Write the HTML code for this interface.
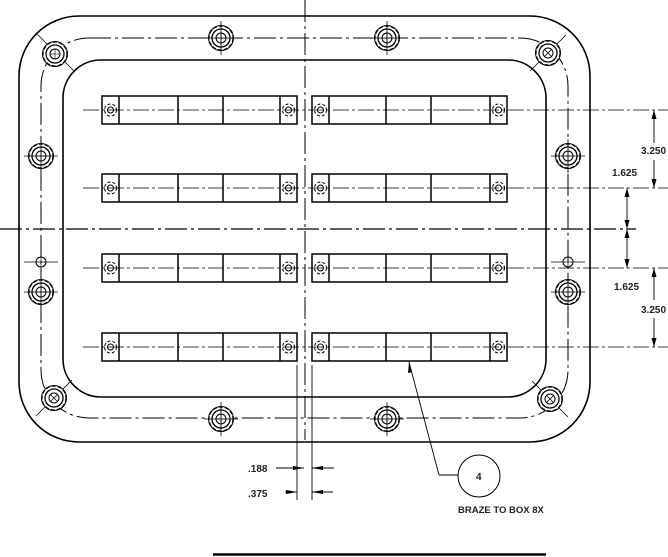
<!DOCTYPE html>
<html><head><meta charset="utf-8"><style>
html,body{margin:0;padding:0;background:#fff;}
svg{display:block;}
text{font-family:"Liberation Sans",sans-serif;font-weight:bold;fill:#222;}
</style></head><body>
<svg id="s" width="668" height="557" viewBox="0 0 668 557" xmlns="http://www.w3.org/2000/svg">
<g fill="none" stroke="#000" stroke-width="1.6">
<rect x="19" y="16" width="571" height="426" rx="60" ry="60"/>
<rect x="63" y="60" width="483" height="337" rx="38" ry="38"/>
</g>
<g fill="none" stroke="#000" stroke-width="1" stroke-dasharray="22,4,3,4">
<rect x="41" y="38" width="527" height="380" rx="48" ry="48"/>
<line x1="305" y1="0" x2="305" y2="440"/>
<line x1="0" y1="229" x2="636" y2="229" stroke-width="1.3"/>
</g>
<g id="g"></g>
<g font-size="10">
<text x="641" y="154">3.250</text>
<text x="612" y="176">1.625</text>
<text x="614" y="290">1.625</text>
<text x="641" y="313">3.250</text>
<text x="248" y="472">.188</text>
<text x="248" y="497">.375</text>
<text x="476" y="480" font-weight="normal">4</text>
<text x="458" y="513" font-size="9.5">BRAZE TO BOX 8X</text>
</g>
<line x1="213" y1="554.5" x2="546" y2="554.5" stroke="#000" stroke-width="2.5"/>
</svg>
<script>
var g=document.getElementById('g'),h='';
function L(a,b,c,d,w,da){h+='<line x1="'+a+'" y1="'+b+'" x2="'+c+'" y2="'+d+'" stroke="#000" stroke-width="'+(w||1)+'"'+(da?' stroke-dasharray="'+da+'"':'')+'/>';}
function C(x,y,r,w,da,f){h+='<circle cx="'+x+'" cy="'+y+'" r="'+r+'" fill="'+(f||'none')+'" stroke="#000" stroke-width="'+(w||1)+'"'+(da?' stroke-dasharray="'+da+'"':'')+'/>';}
function bolt(x,y,cross,xmark){C(x,y,12.5,0,null,'#fff');C(x,y,12,1.2,'4,2');C(x,y,9,1.3);C(x,y,5,1);
 if(cross){L(x-17,y,x+17,y,0.8);L(x,y-17,x,y+17,0.8);}
 if(xmark){L(x-3,y-3,x+3,y+3,0.8);L(x-3,y+3,x+3,y-3,0.8);}else{L(x-5,y,x+5,y,0.6);L(x,y-5,x,y+5,0.6);}}
var rows=[110,188,268,347];
rows.forEach(function(y){
 L(83,y,668,y,0.8,'16,3,3,3');
 [[102,119,178,223,280,297],[312,329,386,431,490,507]].forEach(function(b){
  h+='<rect x="'+b[0]+'" y="'+(y-14)+'" width="'+(b[5]-b[0])+'" height="28" fill="none" stroke="#000" stroke-width="1.5"/>';
  for(var i=1;i<5;i++)L(b[i],y-14,b[i],y+14,1.5);
  [b[0]+8.5,b[5]-8.5].forEach(function(cx){C(cx,y,6,1,'3,2');C(cx,y,3,1);});
 });
});
// corner radial lines
L(37,34,74,71,0.8);L(566,35,530,71,0.8);L(36,416,72,380,0.8);L(568,417,532,381,0.8);
// bolts
bolt(221,38,1);bolt(387,38,1);bolt(221,419,1);bolt(387,419,1);
bolt(41,156,1);bolt(568,156,1);bolt(41,292,1);bolt(568,292,1);
bolt(55,54,0);bolt(548,53,0,1);bolt(54,398,0,1);bolt(550,399,0,1);
// small holes
[[41,262],[568,262]].forEach(function(p){C(p[0],p[1],5,1);L(p[0]-17,p[1],p[0]+17,p[1],0.8);L(p[0],p[1]-5,p[0],p[1]+5,0.6);});
// right dims
function arr(x,y,dir){var d=dir*9;h+='<polygon points="'+x+','+y+' '+(x-2.5)+','+(y+d)+' '+(x+2.5)+','+(y+d)+'" fill="#000"/>';}
L(654,110,654,143,0.9);L(654,160,654,188,0.9);arr(654,110,1);arr(654,188,-1);
L(627,188,627,229,0.9);L(627,229,627,268,0.9);arr(627,188,1);arr(627,229,-1);arr(627,229,1);arr(627,268,-1);
L(654,268,654,300,0.9);L(654,318,654,347,0.9);arr(654,268,1);arr(654,347,-1);
// bottom dims
L(297,365,297,500,0.9);L(312,365,312,500,0.9);
function harr(x,y,dir){var d=dir*11;h+='<polygon points="'+x+','+y+' '+(x+d)+','+(y-2)+' '+(x+d)+','+(y+2)+'" fill="#000"/>';}
L(276,468,304,468,0.9);harr(304,468,-1);L(312,468,334,468,0.9);harr(312,468,1);
L(285,492,297,492,0.9);harr(297,492,-1);L(312,492,333,492,0.9);harr(312,492,1);
// leader
L(409,362,439,475,0.9);L(439,475,458,475,0.9);
h+='<polygon points="409,362 408,373 412,372" fill="#000"/>';
C(479,476,21,1);
g.innerHTML=h;
</script>
</body></html>
